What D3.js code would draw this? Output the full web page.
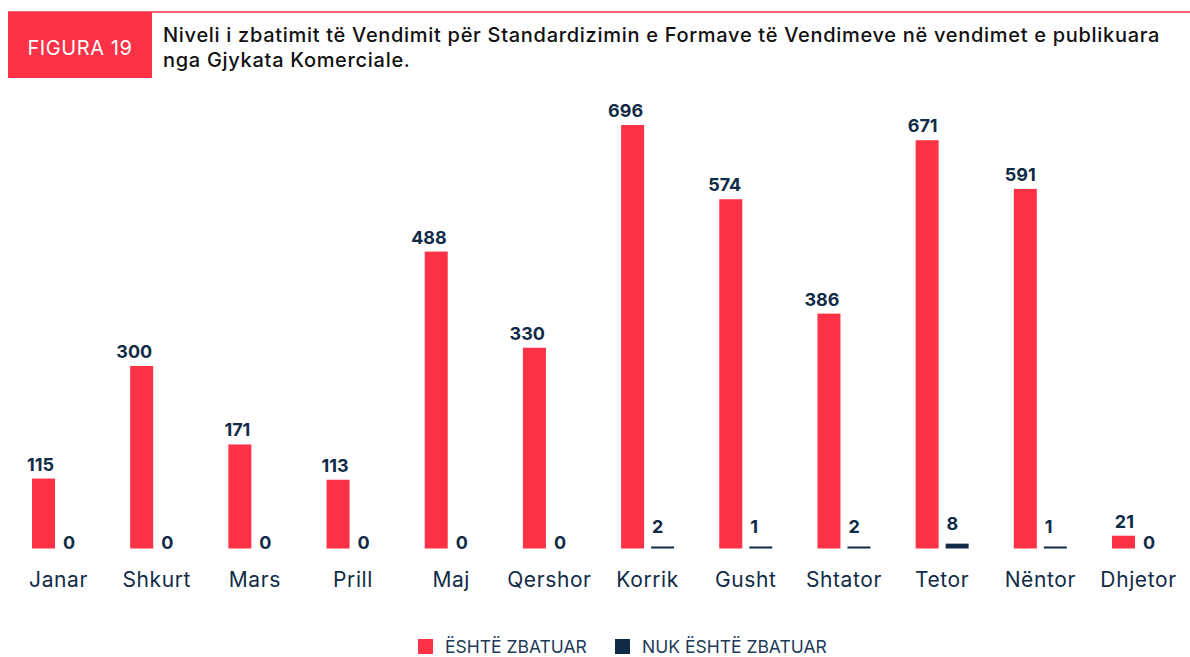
<!DOCTYPE html>
<html>
<head>
<meta charset="utf-8">
<script src="https://cdn.jsdelivr.net/npm/d3@7"></script>
<style>
  body { margin: 0; background: #fff; }
  text { font-family: Inter, "Noto Sans", sans-serif; }
</style>
</head>
<body>
<div id="chart"></div>
<script>
// data
var months = ["Janar", "Shkurt", "Mars", "Prill", "Maj", "Qershor", "Korrik", "Gusht", "Shtator", "Tetor", "Nëntor", "Dhjetor"];
var zbatuar = [115, 300, 171, 113, 488, 330, 696, 574, 386, 671, 591, 21];
var nukZbatuar = [0, 0, 0, 0, 0, 0, 2, 1, 2, 8, 1, 0];
var seriesNames = ["ËSHTË ZBATUAR", "NUK ËSHTË ZBATUAR"];
var titleLines = ["Niveli i zbatimit të Vendimit për Standardizimin e Formave të Vendimeve në vendimet e publikuara", "nga Gjykata Komerciale."];

var RED = "#fd3246";
var NAVY = "#112b47";
var width = 1190, height = 657;
var baseY = 548.5;

var svg = d3.select("#chart").append("svg")
    .attr("width", width)
    .attr("height", height);

// header
svg.append("line")
    .attr("x1", 8).attr("x2", width)
    .attr("y1", 12).attr("y2", 12)
    .attr("stroke", RED).attr("stroke-opacity", 0.75).attr("stroke-width", 2);

svg.append("rect")
    .attr("x", 8).attr("y", 12)
    .attr("width", 144).attr("height", 66)
    .attr("fill", RED);

svg.append("text")
    .attr("x", 80).attr("y", 55)
    .attr("text-anchor", "middle")
    .style("font-size", "20px")
    .style("letter-spacing", "0.6px")
    .style("fill", "#fff")
    .text("FIGURA 19");

svg.append("g").selectAll("text")
    .data(titleLines)
    .enter()
    .append("text")
    .attr("x", 163)
    .attr("y", function (d, i) { return 42 + i * 25; })
    .style("font-size", "20px")
    .style("letter-spacing", "0.7px")
    .style("font-weight", 450)
    .style("fill", "#111")
    .text(function (d) { return d; });

// scales
var x = d3.scaleBand()
    .domain(months)
    .range([32, 1165])
    .paddingInner(0.46)
    .paddingOuter(0);

var xSub = d3.scaleBand()
    .domain([0, 1])
    .range([0, x.bandwidth()])
    .paddingInner(0.2333);

var y = d3.scaleLinear()
    .domain([0, 696])
    .range([baseY, 125]);

var rows = months.map(function (m, i) {
    return { month: m, vals: [zbatuar[i], nukZbatuar[i]] };
});

var group = svg.append("g").selectAll(".month")
    .data(rows)
    .enter()
    .append("g")
    .attr("class", "month")
    .attr("transform", function (d) { return "translate(" + x(d.month) + ",0)"; });

// red bars
group.append("rect")
    .attr("x", xSub(0))
    .attr("width", xSub.bandwidth())
    .attr("y", function (d) { return y(d.vals[0]); })
    .attr("height", function (d) { return baseY - y(d.vals[0]); })
    .attr("fill", RED);

// dark bars (thin line for small non-zero values)
group.filter(function (d) { return d.vals[1] > 0; })
    .append("rect")
    .attr("x", xSub(1))
    .attr("width", xSub.bandwidth())
    .attr("y", function (d) { return Math.min(y(d.vals[1]), baseY - 2); })
    .attr("height", function (d) { return Math.max(baseY - y(d.vals[1]), 2); })
    .attr("fill", NAVY);

// value labels
group.append("text")
    .attr("x", xSub(0) + xSub.bandwidth() - 1)
    .attr("y", function (d) { return y(d.vals[0]) - 8; })
    .attr("text-anchor", "end")
    .style("font-size", "18px")
    .style("font-weight", 700)
    .style("fill", NAVY)
    .text(function (d) { return d.vals[0]; });

group.append("text")
    .attr("x", xSub(1) + 1)
    .attr("y", function (d) { return d.vals[1] > 0 ? Math.min(y(d.vals[1]), baseY - 2) - 14 : baseY; })
    .style("font-size", "18px")
    .style("font-weight", 700)
    .style("fill", NAVY)
    .text(function (d) { return d.vals[1]; });

// month labels
group.append("text")
    .attr("x", x.bandwidth() / 2)
    .attr("y", 587)
    .attr("text-anchor", "middle")
    .style("font-size", "21px")
    .style("letter-spacing", "0.6px")
    .style("fill", NAVY)
    .text(function (d) { return d.month; });

// legend
var legendX = [418, 615];
var legend = svg.append("g").selectAll(".legend")
    .data(seriesNames)
    .enter()
    .append("g")
    .attr("class", "legend")
    .attr("transform", function (d, i) { return "translate(" + legendX[i] + ",639)"; });

legend.append("rect")
    .attr("width", 15).attr("height", 15)
    .attr("fill", function (d, i) { return i === 0 ? RED : NAVY; });

legend.append("text")
    .attr("x", 27).attr("y", 14)
    .style("font-size", "17.5px")
    .style("fill", "#1d3a58")
    .text(function (d) { return d; });
</script>
</body>
</html>
